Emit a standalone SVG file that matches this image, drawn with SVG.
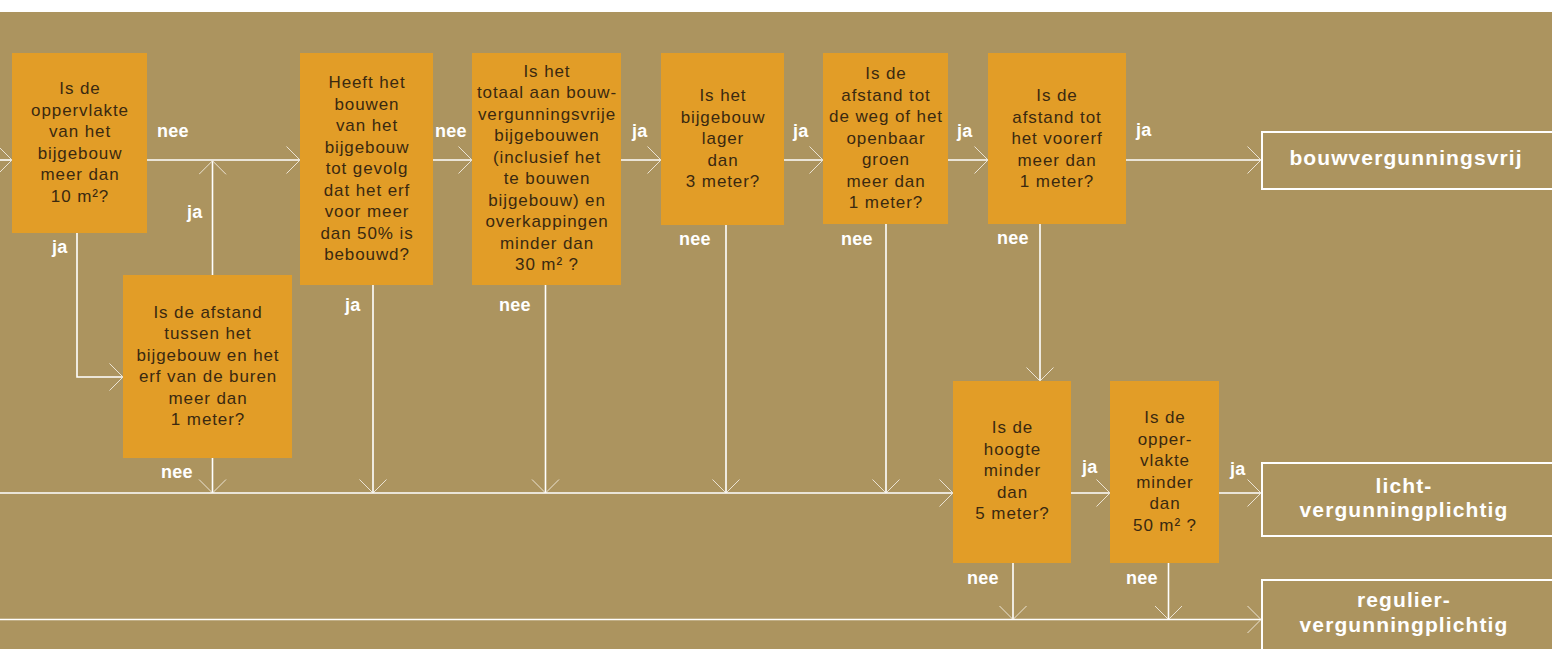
<svg xmlns="http://www.w3.org/2000/svg" width="1552" height="649" viewBox="0 0 1552 649">
<defs>
<style>
.q{fill:#e29d27}
.qt{font-family:"Liberation Sans",Arial,sans-serif;font-size:17px;letter-spacing:0.9px;fill:#3a2910;text-anchor:middle}
.lb{font-family:"Liberation Sans",Arial,sans-serif;font-size:18px;font-weight:bold;letter-spacing:0.3px;fill:#fff}
.out{fill:none;stroke:#fff;stroke-width:2}
.ot{font-family:"Liberation Sans",Arial,sans-serif;font-size:21px;font-weight:bold;letter-spacing:1.1px;fill:#fff;text-anchor:middle}
.c{fill:none;stroke:#fff;stroke-width:1.6}
</style>
<marker id="ah" viewBox="0 0 16 30" markerWidth="16" markerHeight="30" refX="14" refY="14" orient="auto" markerUnits="userSpaceOnUse">
<path d="M0.5,0.5 L14,14 L0.5,27.5" fill="none" stroke="#ebe3d3" stroke-width="1"/>
</marker>
</defs>
<rect x="0" y="0" width="1552" height="649" fill="#ffffff"/>
<rect x="0" y="12" width="1552" height="637" fill="#ac945f"/>

<g id="connectors">
<path class="c" d="M0,160 H12" marker-end="url(#ah)"/>
<path class="c" d="M147,160 H300" marker-end="url(#ah)"/>
<path class="c" d="M212.5,275 V160.8" marker-end="url(#ah)"/>
<path class="c" d="M77,233 V377 H123" marker-end="url(#ah)"/>
<path class="c" d="M433,160 H472" marker-end="url(#ah)"/>
<path class="c" d="M621,160 H661" marker-end="url(#ah)"/>
<path class="c" d="M784,160 H823" marker-end="url(#ah)"/>
<path class="c" d="M948,160 H988" marker-end="url(#ah)"/>
<path class="c" d="M1126,160 H1261" marker-end="url(#ah)"/>
<path class="c" d="M212.5,458 V493" marker-end="url(#ah)"/>
<path class="c" d="M373,285 V493" marker-end="url(#ah)"/>
<path class="c" d="M545.5,285 V493" marker-end="url(#ah)"/>
<path class="c" d="M726,225 V493" marker-end="url(#ah)"/>
<path class="c" d="M886,224 V493" marker-end="url(#ah)"/>
<path class="c" d="M0,493 H953" marker-end="url(#ah)"/>
<path class="c" d="M1040,224 V381" marker-end="url(#ah)"/>
<path class="c" d="M1071,493 H1110" marker-end="url(#ah)"/>
<path class="c" d="M1219,493 H1261" marker-end="url(#ah)"/>
<path class="c" d="M1013,563 V619.5" marker-end="url(#ah)"/>
<path class="c" d="M1168.5,563 V619.5" marker-end="url(#ah)"/>
<path class="c" d="M0,619.5 H1261" marker-end="url(#ah)"/>
</g>

<g id="labels">
<text class="lb" x="157" y="137">nee</text>
<text class="lb" x="187" y="218">ja</text>
<text class="lb" x="52" y="253">ja</text>
<text class="lb" x="435" y="137">nee</text>
<text class="lb" x="345" y="311">ja</text>
<text class="lb" x="499" y="311">nee</text>
<text class="lb" x="632" y="137">ja</text>
<text class="lb" x="793" y="137">ja</text>
<text class="lb" x="957" y="137">ja</text>
<text class="lb" x="1136" y="136">ja</text>
<text class="lb" x="679" y="245">nee</text>
<text class="lb" x="841" y="245">nee</text>
<text class="lb" x="997" y="244">nee</text>
<text class="lb" x="161" y="477.5">nee</text>
<text class="lb" x="1082" y="473">ja</text>
<text class="lb" x="1230" y="475">ja</text>
<text class="lb" x="967" y="584">nee</text>
<text class="lb" x="1126" y="584">nee</text>
</g>

<g id="q1">
<rect class="q" x="12" y="53" width="135" height="180"/>
<text class="qt"><tspan x="80" y="94">Is de</tspan><tspan x="80" y="115.5">oppervlakte</tspan><tspan x="80" y="137">van het</tspan><tspan x="80" y="158.5">bijgebouw</tspan><tspan x="80" y="180">meer dan</tspan><tspan x="80" y="201.5">10 m²?</tspan></text>
</g>
<g id="q2">
<rect class="q" x="123" y="275" width="169" height="183"/>
<text class="qt"><tspan x="208" y="317.5">Is de afstand</tspan><tspan x="208" y="339">tussen het</tspan><tspan x="208" y="360.5">bijgebouw en het</tspan><tspan x="208" y="382">erf van de buren</tspan><tspan x="208" y="403.5">meer dan</tspan><tspan x="208" y="425">1 meter?</tspan></text>
</g>
<g id="q3">
<rect class="q" x="300" y="53" width="133" height="232"/>
<text class="qt"><tspan x="367" y="88">Heeft het</tspan><tspan x="367" y="109.5">bouwen</tspan><tspan x="367" y="131">van het</tspan><tspan x="367" y="152.5">bijgebouw</tspan><tspan x="367" y="174">tot gevolg</tspan><tspan x="367" y="195.5">dat het erf</tspan><tspan x="367" y="217">voor meer</tspan><tspan x="367" y="238.5">dan 50% is</tspan><tspan x="367" y="260">bebouwd?</tspan></text>
</g>
<g id="q4">
<rect class="q" x="472" y="53" width="149" height="232"/>
<text class="qt"><tspan x="547" y="76.5">Is het</tspan><tspan x="547" y="98">totaal aan bouw-</tspan><tspan x="547" y="119.5">vergunningsvrije</tspan><tspan x="547" y="141">bijgebouwen</tspan><tspan x="547" y="162.5">(inclusief het</tspan><tspan x="547" y="184">te bouwen</tspan><tspan x="547" y="205.5">bijgebouw) en</tspan><tspan x="547" y="227">overkappingen</tspan><tspan x="547" y="248.5">minder dan</tspan><tspan x="547" y="270">30 m² ?</tspan></text>
</g>
<g id="q5">
<rect class="q" x="661" y="53" width="123" height="172"/>
<text class="qt"><tspan x="723" y="101">Is het</tspan><tspan x="723" y="122.5">bijgebouw</tspan><tspan x="723" y="144">lager</tspan><tspan x="723" y="165.5">dan</tspan><tspan x="723" y="187">3 meter?</tspan></text>
</g>
<g id="q6">
<rect class="q" x="823" y="53" width="125" height="171"/>
<text class="qt"><tspan x="886" y="79">Is de</tspan><tspan x="886" y="100.5">afstand tot</tspan><tspan x="886" y="122">de weg of het</tspan><tspan x="886" y="143.5">openbaar</tspan><tspan x="886" y="165">groen</tspan><tspan x="886" y="186.5">meer dan</tspan><tspan x="886" y="208">1 meter?</tspan></text>
</g>
<g id="q7">
<rect class="q" x="988" y="53" width="138" height="171"/>
<text class="qt"><tspan x="1057" y="101">Is de</tspan><tspan x="1057" y="122.5">afstand tot</tspan><tspan x="1057" y="144">het voorerf</tspan><tspan x="1057" y="165.5">meer dan</tspan><tspan x="1057" y="187">1 meter?</tspan></text>
</g>
<g id="q8">
<rect class="q" x="953" y="381" width="118" height="182"/>
<text class="qt"><tspan x="1012.5" y="433">Is de</tspan><tspan x="1012.5" y="454.5">hoogte</tspan><tspan x="1012.5" y="476">minder</tspan><tspan x="1012.5" y="497.5">dan</tspan><tspan x="1012.5" y="519">5 meter?</tspan></text>
</g>
<g id="q9">
<rect class="q" x="1110" y="381" width="109" height="182"/>
<text class="qt"><tspan x="1165" y="423">Is de</tspan><tspan x="1165" y="444.5">opper-</tspan><tspan x="1165" y="466">vlakte</tspan><tspan x="1165" y="487.5">minder</tspan><tspan x="1165" y="509">dan</tspan><tspan x="1165" y="530.5">50 m² ?</tspan></text>
</g>

<g id="o1">
<rect class="out" x="1262" y="132" width="300" height="57"/>
<text class="ot" x="1406" y="164.5">bouwvergunningsvrij</text>
</g>
<g id="o2">
<rect class="out" x="1262" y="463" width="300" height="73"/>
<text class="ot"><tspan x="1404" y="493">licht-</tspan><tspan x="1404" y="517">vergunningplichtig</tspan></text>
</g>
<g id="o3">
<rect class="out" x="1262" y="580" width="300" height="80"/>
<text class="ot"><tspan x="1404" y="607">regulier-</tspan><tspan x="1404" y="631.5">vergunningplichtig</tspan></text>
</g>
</svg>
